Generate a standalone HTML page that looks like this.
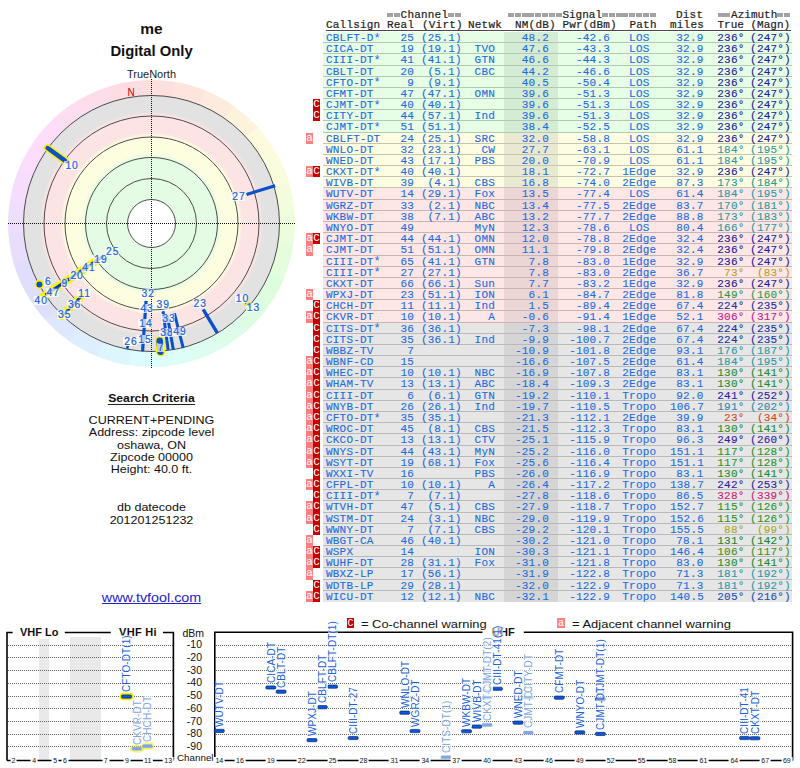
<!DOCTYPE html>
<html><head><meta charset="utf-8"><title>TV Fool</title>
<style>
html,body{margin:0;padding:0;background:#fff;}
body{width:800px;height:768px;overflow:hidden;position:relative;}
.a{position:absolute;white-space:pre;}
.m{font-family:"Liberation Mono",monospace;font-size:11px;}
.s{font-family:"Liberation Sans",sans-serif;}
.r{position:absolute;left:323px;width:469px;height:11.176px;}
.r .b{position:absolute;left:0;right:0;bottom:0;height:1px;}
.r .nm{position:absolute;left:181px;width:54px;top:0;bottom:0;}
.g{background:#e6fde6}.g .nm{background:#d4ebd4}.g .b{background:#b2cab2}
.y{background:#fdfde2}.y .nm{background:#e9e9d3}.y .b{background:#c6c6ae}
.p{background:#fde6e6}.p .nm{background:#ebd5d5}.p .b{background:#cab4b4}
.x{background:#e6e6e6}.x .nm{background:#d5d5d5}.x .b{background:#b9b9b9}
.tx{position:absolute;top:1px;letter-spacing:0.2px;-webkit-text-stroke:0.12px currentColor;line-height:11.176px;height:11.176px;white-space:pre;font-family:"Liberation Mono",monospace;font-size:11px;color:#1e6ce0;}
.st{font-size:12px;position:relative;top:0.5px;left:0px;line-height:0;-webkit-text-stroke:0}
.R{text-align:right}.C{text-align:center}
.fl{position:absolute;width:7px;color:#fff;font-family:"Liberation Mono",monospace;font-size:11px;text-align:center;}
.fa{background:#ff7f7f;left:306px}
.fc{background:#c80000;left:313px}
.hd{font-family:"Liberation Mono",monospace;font-size:11px;color:#222;letter-spacing:0.2px;-webkit-text-stroke:0.2px currentColor;position:absolute;white-space:pre;line-height:11px;}
.q{display:inline-block;width:6.8px;height:3.6px;vertical-align:0.9px;background:linear-gradient(to right,#a2a2a2 0,#a2a2a2 5.7px,transparent 5.7px)}
.pl{position:absolute;text-align:center;background:rgba(255,255,255,0.72);font-family:"Liberation Sans",sans-serif;font-size:10.3px;line-height:9px;height:9px;color:#1a62d8;letter-spacing:1px;text-indent:1px;-webkit-text-stroke:0.2px currentColor}
.axl{position:absolute;top:756.5px;transform:translateX(-50%);background:#fff;padding:0 1.5px;font-family:"Liberation Sans",sans-serif;font-size:7px;line-height:8px;color:#111;white-space:pre}
.sl{position:absolute;font-family:"Liberation Sans",sans-serif;font-size:10px;line-height:10px;height:10px;white-space:pre;transform-origin:0 0;transform:rotate(-90deg);letter-spacing:0.08px;background:rgba(255,255,255,0.6)}
</style></head><body>

<div class="hd" style="left:387.0px;top:9.5px;"><i class="q"></i><i class="q"></i>Channel<i class="q"></i><i class="q"></i></div>
<div class="hd" style="left:508.0px;top:9.5px;letter-spacing:0"><i class="q"></i><i class="q"></i><i class="q"></i><i class="q"></i><i class="q"></i><i class="q"></i><i class="q"></i><i class="q"></i>Signal<i class="q"></i><i class="q"></i><i class="q"></i><i class="q"></i><i class="q"></i><i class="q"></i><i class="q"></i><i class="q"></i></div>
<div class="hd" style="left:676.0px;top:9.5px;">Dist</div>
<div class="hd" style="left:717.5px;top:9.5px;letter-spacing:0"><i class="q"></i><i class="q"></i>Azimuth<i class="q"></i><i class="q"></i></div>
<div class="hd" style="left:326.0px;top:20.2px;">Callsign</div>
<div class="hd" style="left:387.0px;top:20.2px;">Real</div>
<div class="hd" style="left:422.0px;top:20.2px;">(Virt)</div>
<div class="hd" style="left:468.0px;top:20.2px;">Netwk</div>
<div class="hd" style="left:515.0px;top:20.2px;">NM(dB)</div>
<div class="hd" style="left:562.4px;top:20.2px;">Pwr(dBm)</div>
<div class="hd" style="left:629.5px;top:20.2px;">Path</div>
<div class="hd" style="left:670.0px;top:20.2px;">miles</div>
<div class="hd" style="left:717.5px;top:20.2px;letter-spacing:0">True (Magn)</div>
<div class="a" style="left:326px;top:30px;width:465px;height:1px;background:#484848"></div>
<div class="r g" style="top:32.000px"><div class="nm"></div><div class="b"></div>
<div class="tx " style="left:3.0px;width:80.0px;">CBLFT-D<span class="st">*</span></div>
<div class="tx R" style="left:67.0px;width:24.0px;">25</div>
<div class="tx R" style="left:98.0px;width:40.5px;">(25.1)</div>
<div class="tx R" style="left:142.0px;width:30.0px;"></div>
<div class="tx R" style="left:187.0px;width:39.0px;">48.2</div>
<div class="tx R" style="left:242.0px;width:45.0px;">-42.6</div>
<div class="tx C" style="left:296.0px;width:40.6px;">LOS</div>
<div class="tx R" style="left:347.0px;width:33.5px;">32.9</div>
<div class="tx R" style="left:389.0px;width:32.5px;color:#20209c">236°</div>
<div class="tx R" style="left:422.0px;width:45.9px;color:#20209c">(247°)</div>
</div>
<div class="r g" style="top:43.176px"><div class="nm"></div><div class="b"></div>
<div class="tx " style="left:3.0px;width:80.0px;">CICA-DT</div>
<div class="tx R" style="left:67.0px;width:24.0px;">19</div>
<div class="tx R" style="left:98.0px;width:40.5px;">(19.1)</div>
<div class="tx R" style="left:142.0px;width:30.0px;">TVO</div>
<div class="tx R" style="left:187.0px;width:39.0px;">47.6</div>
<div class="tx R" style="left:242.0px;width:45.0px;">-43.3</div>
<div class="tx C" style="left:296.0px;width:40.6px;">LOS</div>
<div class="tx R" style="left:347.0px;width:33.5px;">32.9</div>
<div class="tx R" style="left:389.0px;width:32.5px;color:#20209c">236°</div>
<div class="tx R" style="left:422.0px;width:45.9px;color:#20209c">(247°)</div>
</div>
<div class="r g" style="top:54.353px"><div class="nm"></div><div class="b"></div>
<div class="tx " style="left:3.0px;width:80.0px;">CIII-DT<span class="st">*</span></div>
<div class="tx R" style="left:67.0px;width:24.0px;">41</div>
<div class="tx R" style="left:98.0px;width:40.5px;">(41.1)</div>
<div class="tx R" style="left:142.0px;width:30.0px;">GTN</div>
<div class="tx R" style="left:187.0px;width:39.0px;">46.6</div>
<div class="tx R" style="left:242.0px;width:45.0px;">-44.3</div>
<div class="tx C" style="left:296.0px;width:40.6px;">LOS</div>
<div class="tx R" style="left:347.0px;width:33.5px;">32.9</div>
<div class="tx R" style="left:389.0px;width:32.5px;color:#20209c">236°</div>
<div class="tx R" style="left:422.0px;width:45.9px;color:#20209c">(247°)</div>
</div>
<div class="r g" style="top:65.529px"><div class="nm"></div><div class="b"></div>
<div class="tx " style="left:3.0px;width:80.0px;">CBLT-DT</div>
<div class="tx R" style="left:67.0px;width:24.0px;">20</div>
<div class="tx R" style="left:98.0px;width:40.5px;">(5.1)</div>
<div class="tx R" style="left:142.0px;width:30.0px;">CBC</div>
<div class="tx R" style="left:187.0px;width:39.0px;">44.2</div>
<div class="tx R" style="left:242.0px;width:45.0px;">-46.6</div>
<div class="tx C" style="left:296.0px;width:40.6px;">LOS</div>
<div class="tx R" style="left:347.0px;width:33.5px;">32.9</div>
<div class="tx R" style="left:389.0px;width:32.5px;color:#20209c">236°</div>
<div class="tx R" style="left:422.0px;width:45.9px;color:#20209c">(247°)</div>
</div>
<div class="r g" style="top:76.706px"><div class="nm"></div><div class="b"></div>
<div class="tx " style="left:3.0px;width:80.0px;">CFTO-DT<span class="st">*</span></div>
<div class="tx R" style="left:67.0px;width:24.0px;">9</div>
<div class="tx R" style="left:98.0px;width:40.5px;">(9.1)</div>
<div class="tx R" style="left:142.0px;width:30.0px;"></div>
<div class="tx R" style="left:187.0px;width:39.0px;">40.5</div>
<div class="tx R" style="left:242.0px;width:45.0px;">-50.4</div>
<div class="tx C" style="left:296.0px;width:40.6px;">LOS</div>
<div class="tx R" style="left:347.0px;width:33.5px;">32.9</div>
<div class="tx R" style="left:389.0px;width:32.5px;color:#20209c">236°</div>
<div class="tx R" style="left:422.0px;width:45.9px;color:#20209c">(247°)</div>
</div>
<div class="r g" style="top:87.882px"><div class="nm"></div><div class="b"></div>
<div class="tx " style="left:3.0px;width:80.0px;">CFMT-DT</div>
<div class="tx R" style="left:67.0px;width:24.0px;">47</div>
<div class="tx R" style="left:98.0px;width:40.5px;">(47.1)</div>
<div class="tx R" style="left:142.0px;width:30.0px;">OMN</div>
<div class="tx R" style="left:187.0px;width:39.0px;">39.6</div>
<div class="tx R" style="left:242.0px;width:45.0px;">-51.3</div>
<div class="tx C" style="left:296.0px;width:40.6px;">LOS</div>
<div class="tx R" style="left:347.0px;width:33.5px;">32.9</div>
<div class="tx R" style="left:389.0px;width:32.5px;color:#20209c">236°</div>
<div class="tx R" style="left:422.0px;width:45.9px;color:#20209c">(247°)</div>
</div>
<div class="r g" style="top:99.059px"><div class="nm"></div><div class="b"></div>
<div class="tx " style="left:3.0px;width:80.0px;">CJMT-DT<span class="st">*</span></div>
<div class="tx R" style="left:67.0px;width:24.0px;">40</div>
<div class="tx R" style="left:98.0px;width:40.5px;">(40.1)</div>
<div class="tx R" style="left:142.0px;width:30.0px;"></div>
<div class="tx R" style="left:187.0px;width:39.0px;">39.6</div>
<div class="tx R" style="left:242.0px;width:45.0px;">-51.3</div>
<div class="tx C" style="left:296.0px;width:40.6px;">LOS</div>
<div class="tx R" style="left:347.0px;width:33.5px;">32.9</div>
<div class="tx R" style="left:389.0px;width:32.5px;color:#20209c">236°</div>
<div class="tx R" style="left:422.0px;width:45.9px;color:#20209c">(247°)</div>
</div>
<div class="fl fc" style="top:99.059px;height:11.176px;line-height:11.176px">C</div>
<div class="r g" style="top:110.235px"><div class="nm"></div><div class="b"></div>
<div class="tx " style="left:3.0px;width:80.0px;">CITY-DT</div>
<div class="tx R" style="left:67.0px;width:24.0px;">44</div>
<div class="tx R" style="left:98.0px;width:40.5px;">(57.1)</div>
<div class="tx R" style="left:142.0px;width:30.0px;">Ind</div>
<div class="tx R" style="left:187.0px;width:39.0px;">39.6</div>
<div class="tx R" style="left:242.0px;width:45.0px;">-51.3</div>
<div class="tx C" style="left:296.0px;width:40.6px;">LOS</div>
<div class="tx R" style="left:347.0px;width:33.5px;">32.9</div>
<div class="tx R" style="left:389.0px;width:32.5px;color:#20209c">236°</div>
<div class="tx R" style="left:422.0px;width:45.9px;color:#20209c">(247°)</div>
</div>
<div class="fl fc" style="top:110.235px;height:11.176px;line-height:11.176px">C</div>
<div class="r g" style="top:121.412px"><div class="nm"></div><div class="b"></div>
<div class="tx " style="left:3.0px;width:80.0px;">CJMT-DT<span class="st">*</span></div>
<div class="tx R" style="left:67.0px;width:24.0px;">51</div>
<div class="tx R" style="left:98.0px;width:40.5px;">(51.1)</div>
<div class="tx R" style="left:142.0px;width:30.0px;"></div>
<div class="tx R" style="left:187.0px;width:39.0px;">38.4</div>
<div class="tx R" style="left:242.0px;width:45.0px;">-52.5</div>
<div class="tx C" style="left:296.0px;width:40.6px;">LOS</div>
<div class="tx R" style="left:347.0px;width:33.5px;">32.9</div>
<div class="tx R" style="left:389.0px;width:32.5px;color:#20209c">236°</div>
<div class="tx R" style="left:422.0px;width:45.9px;color:#20209c">(247°)</div>
</div>
<div class="r y" style="top:132.588px"><div class="nm"></div><div class="b"></div>
<div class="tx " style="left:3.0px;width:80.0px;">CBLFT-DT</div>
<div class="tx R" style="left:67.0px;width:24.0px;">24</div>
<div class="tx R" style="left:98.0px;width:40.5px;">(25.1)</div>
<div class="tx R" style="left:142.0px;width:30.0px;">SRC</div>
<div class="tx R" style="left:187.0px;width:39.0px;">32.0</div>
<div class="tx R" style="left:242.0px;width:45.0px;">-58.8</div>
<div class="tx C" style="left:296.0px;width:40.6px;">LOS</div>
<div class="tx R" style="left:347.0px;width:33.5px;">32.9</div>
<div class="tx R" style="left:389.0px;width:32.5px;color:#20209c">236°</div>
<div class="tx R" style="left:422.0px;width:45.9px;color:#20209c">(247°)</div>
</div>
<div class="fl fa" style="top:132.588px;height:11.176px;line-height:11.176px">a</div>
<div class="r y" style="top:143.765px"><div class="nm"></div><div class="b"></div>
<div class="tx " style="left:3.0px;width:80.0px;">WNLO-DT</div>
<div class="tx R" style="left:67.0px;width:24.0px;">32</div>
<div class="tx R" style="left:98.0px;width:40.5px;">(23.1)</div>
<div class="tx R" style="left:142.0px;width:30.0px;">CW</div>
<div class="tx R" style="left:187.0px;width:39.0px;">27.7</div>
<div class="tx R" style="left:242.0px;width:45.0px;">-63.1</div>
<div class="tx C" style="left:296.0px;width:40.6px;">LOS</div>
<div class="tx R" style="left:347.0px;width:33.5px;">61.1</div>
<div class="tx R" style="left:389.0px;width:32.5px;color:#2a98a4">184°</div>
<div class="tx R" style="left:422.0px;width:45.9px;color:#2a98a4">(195°)</div>
</div>
<div class="r y" style="top:154.941px"><div class="nm"></div><div class="b"></div>
<div class="tx " style="left:3.0px;width:80.0px;">WNED-DT</div>
<div class="tx R" style="left:67.0px;width:24.0px;">43</div>
<div class="tx R" style="left:98.0px;width:40.5px;">(17.1)</div>
<div class="tx R" style="left:142.0px;width:30.0px;">PBS</div>
<div class="tx R" style="left:187.0px;width:39.0px;">20.0</div>
<div class="tx R" style="left:242.0px;width:45.0px;">-70.9</div>
<div class="tx C" style="left:296.0px;width:40.6px;">LOS</div>
<div class="tx R" style="left:347.0px;width:33.5px;">61.1</div>
<div class="tx R" style="left:389.0px;width:32.5px;color:#2a98a4">184°</div>
<div class="tx R" style="left:422.0px;width:45.9px;color:#2a98a4">(195°)</div>
</div>
<div class="r y" style="top:166.118px"><div class="nm"></div><div class="b"></div>
<div class="tx " style="left:3.0px;width:80.0px;">CKXT-DT<span class="st">*</span></div>
<div class="tx R" style="left:67.0px;width:24.0px;">40</div>
<div class="tx R" style="left:98.0px;width:40.5px;">(40.1)</div>
<div class="tx R" style="left:142.0px;width:30.0px;"></div>
<div class="tx R" style="left:187.0px;width:39.0px;">18.1</div>
<div class="tx R" style="left:242.0px;width:45.0px;">-72.7</div>
<div class="tx C" style="left:296.0px;width:40.6px;">1Edge</div>
<div class="tx R" style="left:347.0px;width:33.5px;">32.9</div>
<div class="tx R" style="left:389.0px;width:32.5px;color:#20209c">236°</div>
<div class="tx R" style="left:422.0px;width:45.9px;color:#20209c">(247°)</div>
</div>
<div class="fl fa" style="top:166.118px;height:11.176px;line-height:11.176px">a</div>
<div class="fl fc" style="top:166.118px;height:11.176px;line-height:11.176px">C</div>
<div class="r y" style="top:177.294px"><div class="nm"></div><div class="b"></div>
<div class="tx " style="left:3.0px;width:80.0px;">WIVB-DT</div>
<div class="tx R" style="left:67.0px;width:24.0px;">39</div>
<div class="tx R" style="left:98.0px;width:40.5px;">(4.1)</div>
<div class="tx R" style="left:142.0px;width:30.0px;">CBS</div>
<div class="tx R" style="left:187.0px;width:39.0px;">16.8</div>
<div class="tx R" style="left:242.0px;width:45.0px;">-74.0</div>
<div class="tx C" style="left:296.0px;width:40.6px;">2Edge</div>
<div class="tx R" style="left:347.0px;width:33.5px;">87.3</div>
<div class="tx R" style="left:389.0px;width:32.5px;color:#2a9a9a">173°</div>
<div class="tx R" style="left:422.0px;width:45.9px;color:#2a9a9a">(184°)</div>
</div>
<div class="r p" style="top:188.471px"><div class="nm"></div><div class="b"></div>
<div class="tx " style="left:3.0px;width:80.0px;">WUTV-DT</div>
<div class="tx R" style="left:67.0px;width:24.0px;">14</div>
<div class="tx R" style="left:98.0px;width:40.5px;">(29.1)</div>
<div class="tx R" style="left:142.0px;width:30.0px;">Fox</div>
<div class="tx R" style="left:187.0px;width:39.0px;">13.5</div>
<div class="tx R" style="left:242.0px;width:45.0px;">-77.4</div>
<div class="tx C" style="left:296.0px;width:40.6px;">LOS</div>
<div class="tx R" style="left:347.0px;width:33.5px;">61.4</div>
<div class="tx R" style="left:389.0px;width:32.5px;color:#2a98a4">184°</div>
<div class="tx R" style="left:422.0px;width:45.9px;color:#2a98a4">(195°)</div>
</div>
<div class="r p" style="top:199.647px"><div class="nm"></div><div class="b"></div>
<div class="tx " style="left:3.0px;width:80.0px;">WGRZ-DT</div>
<div class="tx R" style="left:67.0px;width:24.0px;">33</div>
<div class="tx R" style="left:98.0px;width:40.5px;">(2.1)</div>
<div class="tx R" style="left:142.0px;width:30.0px;">NBC</div>
<div class="tx R" style="left:187.0px;width:39.0px;">13.4</div>
<div class="tx R" style="left:242.0px;width:45.0px;">-77.5</div>
<div class="tx C" style="left:296.0px;width:40.6px;">2Edge</div>
<div class="tx R" style="left:347.0px;width:33.5px;">83.7</div>
<div class="tx R" style="left:389.0px;width:32.5px;color:#2a9a9a">170°</div>
<div class="tx R" style="left:422.0px;width:45.9px;color:#2a9a9a">(181°)</div>
</div>
<div class="r p" style="top:210.824px"><div class="nm"></div><div class="b"></div>
<div class="tx " style="left:3.0px;width:80.0px;">WKBW-DT</div>
<div class="tx R" style="left:67.0px;width:24.0px;">38</div>
<div class="tx R" style="left:98.0px;width:40.5px;">(7.1)</div>
<div class="tx R" style="left:142.0px;width:30.0px;">ABC</div>
<div class="tx R" style="left:187.0px;width:39.0px;">13.2</div>
<div class="tx R" style="left:242.0px;width:45.0px;">-77.7</div>
<div class="tx C" style="left:296.0px;width:40.6px;">2Edge</div>
<div class="tx R" style="left:347.0px;width:33.5px;">88.8</div>
<div class="tx R" style="left:389.0px;width:32.5px;color:#2a9a9a">173°</div>
<div class="tx R" style="left:422.0px;width:45.9px;color:#2a9a9a">(183°)</div>
</div>
<div class="r p" style="top:222.000px"><div class="nm"></div><div class="b"></div>
<div class="tx " style="left:3.0px;width:80.0px;">WNYO-DT</div>
<div class="tx R" style="left:67.0px;width:24.0px;">49</div>
<div class="tx R" style="left:98.0px;width:40.5px;"></div>
<div class="tx R" style="left:142.0px;width:30.0px;">MyN</div>
<div class="tx R" style="left:187.0px;width:39.0px;">12.3</div>
<div class="tx R" style="left:242.0px;width:45.0px;">-78.6</div>
<div class="tx C" style="left:296.0px;width:40.6px;">LOS</div>
<div class="tx R" style="left:347.0px;width:33.5px;">80.4</div>
<div class="tx R" style="left:389.0px;width:32.5px;color:#2a9a9a">166°</div>
<div class="tx R" style="left:422.0px;width:45.9px;color:#2a9a9a">(177°)</div>
</div>
<div class="r p" style="top:233.176px"><div class="nm"></div><div class="b"></div>
<div class="tx " style="left:3.0px;width:80.0px;">CJMT-DT</div>
<div class="tx R" style="left:67.0px;width:24.0px;">44</div>
<div class="tx R" style="left:98.0px;width:40.5px;">(44.1)</div>
<div class="tx R" style="left:142.0px;width:30.0px;">OMN</div>
<div class="tx R" style="left:187.0px;width:39.0px;">12.0</div>
<div class="tx R" style="left:242.0px;width:45.0px;">-78.8</div>
<div class="tx C" style="left:296.0px;width:40.6px;">2Edge</div>
<div class="tx R" style="left:347.0px;width:33.5px;">32.4</div>
<div class="tx R" style="left:389.0px;width:32.5px;color:#20209c">236°</div>
<div class="tx R" style="left:422.0px;width:45.9px;color:#20209c">(247°)</div>
</div>
<div class="fl fa" style="top:233.176px;height:11.176px;line-height:11.176px">a</div>
<div class="fl fc" style="top:233.176px;height:11.176px;line-height:11.176px">C</div>
<div class="r p" style="top:244.353px"><div class="nm"></div><div class="b"></div>
<div class="tx " style="left:3.0px;width:80.0px;">CJMT-DT</div>
<div class="tx R" style="left:67.0px;width:24.0px;">51</div>
<div class="tx R" style="left:98.0px;width:40.5px;">(51.1)</div>
<div class="tx R" style="left:142.0px;width:30.0px;">OMN</div>
<div class="tx R" style="left:187.0px;width:39.0px;">11.1</div>
<div class="tx R" style="left:242.0px;width:45.0px;">-79.8</div>
<div class="tx C" style="left:296.0px;width:40.6px;">2Edge</div>
<div class="tx R" style="left:347.0px;width:33.5px;">32.4</div>
<div class="tx R" style="left:389.0px;width:32.5px;color:#20209c">236°</div>
<div class="tx R" style="left:422.0px;width:45.9px;color:#20209c">(247°)</div>
</div>
<div class="fl fa" style="top:244.353px;height:11.176px;line-height:11.176px">a</div>
<div class="r p" style="top:255.529px"><div class="nm"></div><div class="b"></div>
<div class="tx " style="left:3.0px;width:80.0px;">CIII-DT<span class="st">*</span></div>
<div class="tx R" style="left:67.0px;width:24.0px;">65</div>
<div class="tx R" style="left:98.0px;width:40.5px;">(41.1)</div>
<div class="tx R" style="left:142.0px;width:30.0px;">GTN</div>
<div class="tx R" style="left:187.0px;width:39.0px;">7.8</div>
<div class="tx R" style="left:242.0px;width:45.0px;">-83.0</div>
<div class="tx C" style="left:296.0px;width:40.6px;">1Edge</div>
<div class="tx R" style="left:347.0px;width:33.5px;">32.9</div>
<div class="tx R" style="left:389.0px;width:32.5px;color:#20209c">236°</div>
<div class="tx R" style="left:422.0px;width:45.9px;color:#20209c">(247°)</div>
</div>
<div class="r p" style="top:266.706px"><div class="nm"></div><div class="b"></div>
<div class="tx " style="left:3.0px;width:80.0px;">CIII-DT<span class="st">*</span></div>
<div class="tx R" style="left:67.0px;width:24.0px;">27</div>
<div class="tx R" style="left:98.0px;width:40.5px;">(27.1)</div>
<div class="tx R" style="left:142.0px;width:30.0px;"></div>
<div class="tx R" style="left:187.0px;width:39.0px;">7.8</div>
<div class="tx R" style="left:242.0px;width:45.0px;">-83.0</div>
<div class="tx C" style="left:296.0px;width:40.6px;">2Edge</div>
<div class="tx R" style="left:347.0px;width:33.5px;">36.7</div>
<div class="tx R" style="left:389.0px;width:32.5px;color:#b8a020">73°</div>
<div class="tx R" style="left:422.0px;width:45.9px;color:#b8a020">(83°)</div>
</div>
<div class="r p" style="top:277.882px"><div class="nm"></div><div class="b"></div>
<div class="tx " style="left:3.0px;width:80.0px;">CKXT-DT</div>
<div class="tx R" style="left:67.0px;width:24.0px;">66</div>
<div class="tx R" style="left:98.0px;width:40.5px;">(66.1)</div>
<div class="tx R" style="left:142.0px;width:30.0px;">Sun</div>
<div class="tx R" style="left:187.0px;width:39.0px;">7.7</div>
<div class="tx R" style="left:242.0px;width:45.0px;">-83.2</div>
<div class="tx C" style="left:296.0px;width:40.6px;">1Edge</div>
<div class="tx R" style="left:347.0px;width:33.5px;">32.9</div>
<div class="tx R" style="left:389.0px;width:32.5px;color:#20209c">236°</div>
<div class="tx R" style="left:422.0px;width:45.9px;color:#20209c">(247°)</div>
</div>
<div class="r p" style="top:289.059px"><div class="nm"></div><div class="b"></div>
<div class="tx " style="left:3.0px;width:80.0px;">WPXJ-DT</div>
<div class="tx R" style="left:67.0px;width:24.0px;">23</div>
<div class="tx R" style="left:98.0px;width:40.5px;">(51.1)</div>
<div class="tx R" style="left:142.0px;width:30.0px;">ION</div>
<div class="tx R" style="left:187.0px;width:39.0px;">6.1</div>
<div class="tx R" style="left:242.0px;width:45.0px;">-84.7</div>
<div class="tx C" style="left:296.0px;width:40.6px;">2Edge</div>
<div class="tx R" style="left:347.0px;width:33.5px;">81.8</div>
<div class="tx R" style="left:389.0px;width:32.5px;color:#2a9a4a">149°</div>
<div class="tx R" style="left:422.0px;width:45.9px;color:#2a9a4a">(160°)</div>
</div>
<div class="fl fa" style="top:289.059px;height:11.176px;line-height:11.176px">a</div>
<div class="r p" style="top:300.235px"><div class="nm"></div><div class="b"></div>
<div class="tx " style="left:3.0px;width:80.0px;">CHCH-DT</div>
<div class="tx R" style="left:67.0px;width:24.0px;">11</div>
<div class="tx R" style="left:98.0px;width:40.5px;">(11.1)</div>
<div class="tx R" style="left:142.0px;width:30.0px;">Ind</div>
<div class="tx R" style="left:187.0px;width:39.0px;">1.5</div>
<div class="tx R" style="left:242.0px;width:45.0px;">-89.4</div>
<div class="tx C" style="left:296.0px;width:40.6px;">2Edge</div>
<div class="tx R" style="left:347.0px;width:33.5px;">67.4</div>
<div class="tx R" style="left:389.0px;width:32.5px;color:#2030a8">224°</div>
<div class="tx R" style="left:422.0px;width:45.9px;color:#2030a8">(235°)</div>
</div>
<div class="fl fc" style="top:300.235px;height:11.176px;line-height:11.176px">C</div>
<div class="r p" style="top:311.412px"><div class="nm"></div><div class="b"></div>
<div class="tx " style="left:3.0px;width:80.0px;">CKVR-DT</div>
<div class="tx R" style="left:67.0px;width:24.0px;">10</div>
<div class="tx R" style="left:98.0px;width:40.5px;">(10.1)</div>
<div class="tx R" style="left:142.0px;width:30.0px;">A</div>
<div class="tx R" style="left:187.0px;width:39.0px;">-0.6</div>
<div class="tx R" style="left:242.0px;width:45.0px;">-91.4</div>
<div class="tx C" style="left:296.0px;width:40.6px;">1Edge</div>
<div class="tx R" style="left:347.0px;width:33.5px;">52.1</div>
<div class="tx R" style="left:389.0px;width:32.5px;color:#c02098">306°</div>
<div class="tx R" style="left:422.0px;width:45.9px;color:#c02098">(317°)</div>
</div>
<div class="fl fa" style="top:311.412px;height:11.176px;line-height:11.176px">a</div>
<div class="fl fc" style="top:311.412px;height:11.176px;line-height:11.176px">C</div>
<div class="r x" style="top:322.588px"><div class="nm"></div><div class="b"></div>
<div class="tx " style="left:3.0px;width:80.0px;">CITS-DT<span class="st">*</span></div>
<div class="tx R" style="left:67.0px;width:24.0px;">36</div>
<div class="tx R" style="left:98.0px;width:40.5px;">(36.1)</div>
<div class="tx R" style="left:142.0px;width:30.0px;"></div>
<div class="tx R" style="left:187.0px;width:39.0px;">-7.3</div>
<div class="tx R" style="left:242.0px;width:45.0px;">-98.1</div>
<div class="tx C" style="left:296.0px;width:40.6px;">2Edge</div>
<div class="tx R" style="left:347.0px;width:33.5px;">67.4</div>
<div class="tx R" style="left:389.0px;width:32.5px;color:#2030a8">224°</div>
<div class="tx R" style="left:422.0px;width:45.9px;color:#2030a8">(235°)</div>
</div>
<div class="fl fc" style="top:322.588px;height:11.176px;line-height:11.176px">C</div>
<div class="r x" style="top:333.765px"><div class="nm"></div><div class="b"></div>
<div class="tx " style="left:3.0px;width:80.0px;">CITS-DT</div>
<div class="tx R" style="left:67.0px;width:24.0px;">35</div>
<div class="tx R" style="left:98.0px;width:40.5px;">(36.1)</div>
<div class="tx R" style="left:142.0px;width:30.0px;">Ind</div>
<div class="tx R" style="left:187.0px;width:39.0px;">-9.9</div>
<div class="tx R" style="left:242.0px;width:45.0px;">-100.7</div>
<div class="tx C" style="left:296.0px;width:40.6px;">2Edge</div>
<div class="tx R" style="left:347.0px;width:33.5px;">67.4</div>
<div class="tx R" style="left:389.0px;width:32.5px;color:#2030a8">224°</div>
<div class="tx R" style="left:422.0px;width:45.9px;color:#2030a8">(235°)</div>
</div>
<div class="fl fc" style="top:333.765px;height:11.176px;line-height:11.176px">C</div>
<div class="r x" style="top:344.941px"><div class="nm"></div><div class="b"></div>
<div class="tx " style="left:3.0px;width:80.0px;">WBBZ-TV</div>
<div class="tx R" style="left:67.0px;width:24.0px;">7</div>
<div class="tx R" style="left:98.0px;width:40.5px;"></div>
<div class="tx R" style="left:142.0px;width:30.0px;"></div>
<div class="tx R" style="left:187.0px;width:39.0px;">-10.9</div>
<div class="tx R" style="left:242.0px;width:45.0px;">-101.8</div>
<div class="tx C" style="left:296.0px;width:40.6px;">2Edge</div>
<div class="tx R" style="left:347.0px;width:33.5px;">93.1</div>
<div class="tx R" style="left:389.0px;width:32.5px;color:#2a9aa4">176°</div>
<div class="tx R" style="left:422.0px;width:45.9px;color:#2a9aa4">(187°)</div>
</div>
<div class="fl fc" style="top:344.941px;height:11.176px;line-height:11.176px">C</div>
<div class="r x" style="top:356.118px"><div class="nm"></div><div class="b"></div>
<div class="tx " style="left:3.0px;width:80.0px;">WBNF-CD</div>
<div class="tx R" style="left:67.0px;width:24.0px;">15</div>
<div class="tx R" style="left:98.0px;width:40.5px;"></div>
<div class="tx R" style="left:142.0px;width:30.0px;"></div>
<div class="tx R" style="left:187.0px;width:39.0px;">-16.6</div>
<div class="tx R" style="left:242.0px;width:45.0px;">-107.5</div>
<div class="tx C" style="left:296.0px;width:40.6px;">2Edge</div>
<div class="tx R" style="left:347.0px;width:33.5px;">61.4</div>
<div class="tx R" style="left:389.0px;width:32.5px;color:#2a98a4">184°</div>
<div class="tx R" style="left:422.0px;width:45.9px;color:#2a98a4">(195°)</div>
</div>
<div class="fl fa" style="top:356.118px;height:11.176px;line-height:11.176px">a</div>
<div class="fl fc" style="top:356.118px;height:11.176px;line-height:11.176px">C</div>
<div class="r x" style="top:367.294px"><div class="nm"></div><div class="b"></div>
<div class="tx " style="left:3.0px;width:80.0px;">WHEC-DT</div>
<div class="tx R" style="left:67.0px;width:24.0px;">10</div>
<div class="tx R" style="left:98.0px;width:40.5px;">(10.1)</div>
<div class="tx R" style="left:142.0px;width:30.0px;">NBC</div>
<div class="tx R" style="left:187.0px;width:39.0px;">-16.9</div>
<div class="tx R" style="left:242.0px;width:45.0px;">-107.8</div>
<div class="tx C" style="left:296.0px;width:40.6px;">2Edge</div>
<div class="tx R" style="left:347.0px;width:33.5px;">83.1</div>
<div class="tx R" style="left:389.0px;width:32.5px;color:#1e8c2c">130°</div>
<div class="tx R" style="left:422.0px;width:45.9px;color:#1e8c2c">(141°)</div>
</div>
<div class="fl fa" style="top:367.294px;height:11.176px;line-height:11.176px">a</div>
<div class="fl fc" style="top:367.294px;height:11.176px;line-height:11.176px">C</div>
<div class="r x" style="top:378.471px"><div class="nm"></div><div class="b"></div>
<div class="tx " style="left:3.0px;width:80.0px;">WHAM-TV</div>
<div class="tx R" style="left:67.0px;width:24.0px;">13</div>
<div class="tx R" style="left:98.0px;width:40.5px;">(13.1)</div>
<div class="tx R" style="left:142.0px;width:30.0px;">ABC</div>
<div class="tx R" style="left:187.0px;width:39.0px;">-18.4</div>
<div class="tx R" style="left:242.0px;width:45.0px;">-109.3</div>
<div class="tx C" style="left:296.0px;width:40.6px;">2Edge</div>
<div class="tx R" style="left:347.0px;width:33.5px;">83.1</div>
<div class="tx R" style="left:389.0px;width:32.5px;color:#1e8c2c">130°</div>
<div class="tx R" style="left:422.0px;width:45.9px;color:#1e8c2c">(141°)</div>
</div>
<div class="fl fa" style="top:378.471px;height:11.176px;line-height:11.176px">a</div>
<div class="fl fc" style="top:378.471px;height:11.176px;line-height:11.176px">C</div>
<div class="r x" style="top:389.647px"><div class="nm"></div><div class="b"></div>
<div class="tx " style="left:3.0px;width:80.0px;">CIII-DT</div>
<div class="tx R" style="left:67.0px;width:24.0px;">6</div>
<div class="tx R" style="left:98.0px;width:40.5px;">(6.1)</div>
<div class="tx R" style="left:142.0px;width:30.0px;">GTN</div>
<div class="tx R" style="left:187.0px;width:39.0px;">-19.2</div>
<div class="tx R" style="left:242.0px;width:45.0px;">-110.1</div>
<div class="tx C" style="left:296.0px;width:40.6px;">Tropo</div>
<div class="tx R" style="left:347.0px;width:33.5px;">92.0</div>
<div class="tx R" style="left:389.0px;width:32.5px;color:#2a24a4">241°</div>
<div class="tx R" style="left:422.0px;width:45.9px;color:#2a24a4">(252°)</div>
</div>
<div class="fl fa" style="top:389.647px;height:11.176px;line-height:11.176px">a</div>
<div class="fl fc" style="top:389.647px;height:11.176px;line-height:11.176px">C</div>
<div class="r x" style="top:400.824px"><div class="nm"></div><div class="b"></div>
<div class="tx " style="left:3.0px;width:80.0px;">WNYB-DT</div>
<div class="tx R" style="left:67.0px;width:24.0px;">26</div>
<div class="tx R" style="left:98.0px;width:40.5px;">(26.1)</div>
<div class="tx R" style="left:142.0px;width:30.0px;">Ind</div>
<div class="tx R" style="left:187.0px;width:39.0px;">-19.7</div>
<div class="tx R" style="left:242.0px;width:45.0px;">-110.5</div>
<div class="tx C" style="left:296.0px;width:40.6px;">Tropo</div>
<div class="tx R" style="left:347.0px;width:33.5px;">106.7</div>
<div class="tx R" style="left:389.0px;width:32.5px;color:#2a88b0">191°</div>
<div class="tx R" style="left:422.0px;width:45.9px;color:#2a88b0">(202°)</div>
</div>
<div class="fl fa" style="top:400.824px;height:11.176px;line-height:11.176px">a</div>
<div class="fl fc" style="top:400.824px;height:11.176px;line-height:11.176px">C</div>
<div class="r x" style="top:412.000px"><div class="nm"></div><div class="b"></div>
<div class="tx " style="left:3.0px;width:80.0px;">CFTO-DT<span class="st">*</span></div>
<div class="tx R" style="left:67.0px;width:24.0px;">35</div>
<div class="tx R" style="left:98.0px;width:40.5px;">(35.1)</div>
<div class="tx R" style="left:142.0px;width:30.0px;"></div>
<div class="tx R" style="left:187.0px;width:39.0px;">-21.3</div>
<div class="tx R" style="left:242.0px;width:45.0px;">-112.1</div>
<div class="tx C" style="left:296.0px;width:40.6px;">2Edge</div>
<div class="tx R" style="left:347.0px;width:33.5px;">39.9</div>
<div class="tx R" style="left:389.0px;width:32.5px;color:#d04818">23°</div>
<div class="tx R" style="left:422.0px;width:45.9px;color:#d04818">(34°)</div>
</div>
<div class="fl fa" style="top:412.000px;height:11.176px;line-height:11.176px">a</div>
<div class="fl fc" style="top:412.000px;height:11.176px;line-height:11.176px">C</div>
<div class="r x" style="top:423.176px"><div class="nm"></div><div class="b"></div>
<div class="tx " style="left:3.0px;width:80.0px;">WROC-DT</div>
<div class="tx R" style="left:67.0px;width:24.0px;">45</div>
<div class="tx R" style="left:98.0px;width:40.5px;">(8.1)</div>
<div class="tx R" style="left:142.0px;width:30.0px;">CBS</div>
<div class="tx R" style="left:187.0px;width:39.0px;">-21.5</div>
<div class="tx R" style="left:242.0px;width:45.0px;">-112.3</div>
<div class="tx C" style="left:296.0px;width:40.6px;">Tropo</div>
<div class="tx R" style="left:347.0px;width:33.5px;">83.1</div>
<div class="tx R" style="left:389.0px;width:32.5px;color:#1e8c2c">130°</div>
<div class="tx R" style="left:422.0px;width:45.9px;color:#1e8c2c">(141°)</div>
</div>
<div class="fl fa" style="top:423.176px;height:11.176px;line-height:11.176px">a</div>
<div class="fl fc" style="top:423.176px;height:11.176px;line-height:11.176px">C</div>
<div class="r x" style="top:434.353px"><div class="nm"></div><div class="b"></div>
<div class="tx " style="left:3.0px;width:80.0px;">CKCO-DT</div>
<div class="tx R" style="left:67.0px;width:24.0px;">13</div>
<div class="tx R" style="left:98.0px;width:40.5px;">(13.1)</div>
<div class="tx R" style="left:142.0px;width:30.0px;">CTV</div>
<div class="tx R" style="left:187.0px;width:39.0px;">-25.1</div>
<div class="tx R" style="left:242.0px;width:45.0px;">-115.9</div>
<div class="tx C" style="left:296.0px;width:40.6px;">Tropo</div>
<div class="tx R" style="left:347.0px;width:33.5px;">96.3</div>
<div class="tx R" style="left:389.0px;width:32.5px;color:#3420a4">249°</div>
<div class="tx R" style="left:422.0px;width:45.9px;color:#3420a4">(260°)</div>
</div>
<div class="fl fa" style="top:434.353px;height:11.176px;line-height:11.176px">a</div>
<div class="fl fc" style="top:434.353px;height:11.176px;line-height:11.176px">C</div>
<div class="r x" style="top:445.529px"><div class="nm"></div><div class="b"></div>
<div class="tx " style="left:3.0px;width:80.0px;">WNYS-DT</div>
<div class="tx R" style="left:67.0px;width:24.0px;">44</div>
<div class="tx R" style="left:98.0px;width:40.5px;">(43.1)</div>
<div class="tx R" style="left:142.0px;width:30.0px;">MyN</div>
<div class="tx R" style="left:187.0px;width:39.0px;">-25.2</div>
<div class="tx R" style="left:242.0px;width:45.0px;">-116.0</div>
<div class="tx C" style="left:296.0px;width:40.6px;">Tropo</div>
<div class="tx R" style="left:347.0px;width:33.5px;">151.1</div>
<div class="tx R" style="left:389.0px;width:32.5px;color:#2a9428">117°</div>
<div class="tx R" style="left:422.0px;width:45.9px;color:#2a9428">(128°)</div>
</div>
<div class="fl fa" style="top:445.529px;height:11.176px;line-height:11.176px">a</div>
<div class="fl fc" style="top:445.529px;height:11.176px;line-height:11.176px">C</div>
<div class="r x" style="top:456.706px"><div class="nm"></div><div class="b"></div>
<div class="tx " style="left:3.0px;width:80.0px;">WSYT-DT</div>
<div class="tx R" style="left:67.0px;width:24.0px;">19</div>
<div class="tx R" style="left:98.0px;width:40.5px;">(68.1)</div>
<div class="tx R" style="left:142.0px;width:30.0px;">Fox</div>
<div class="tx R" style="left:187.0px;width:39.0px;">-25.6</div>
<div class="tx R" style="left:242.0px;width:45.0px;">-116.4</div>
<div class="tx C" style="left:296.0px;width:40.6px;">Tropo</div>
<div class="tx R" style="left:347.0px;width:33.5px;">151.1</div>
<div class="tx R" style="left:389.0px;width:32.5px;color:#2a9428">117°</div>
<div class="tx R" style="left:422.0px;width:45.9px;color:#2a9428">(128°)</div>
</div>
<div class="fl fa" style="top:456.706px;height:11.176px;line-height:11.176px">a</div>
<div class="fl fc" style="top:456.706px;height:11.176px;line-height:11.176px">C</div>
<div class="r x" style="top:467.882px"><div class="nm"></div><div class="b"></div>
<div class="tx " style="left:3.0px;width:80.0px;">WXXI-TV</div>
<div class="tx R" style="left:67.0px;width:24.0px;">16</div>
<div class="tx R" style="left:98.0px;width:40.5px;"></div>
<div class="tx R" style="left:142.0px;width:30.0px;">PBS</div>
<div class="tx R" style="left:187.0px;width:39.0px;">-26.0</div>
<div class="tx R" style="left:242.0px;width:45.0px;">-116.9</div>
<div class="tx C" style="left:296.0px;width:40.6px;">Tropo</div>
<div class="tx R" style="left:347.0px;width:33.5px;">83.1</div>
<div class="tx R" style="left:389.0px;width:32.5px;color:#1e8c2c">130°</div>
<div class="tx R" style="left:422.0px;width:45.9px;color:#1e8c2c">(141°)</div>
</div>
<div class="fl fc" style="top:467.882px;height:11.176px;line-height:11.176px">C</div>
<div class="r x" style="top:479.059px"><div class="nm"></div><div class="b"></div>
<div class="tx " style="left:3.0px;width:80.0px;">CFPL-DT</div>
<div class="tx R" style="left:67.0px;width:24.0px;">10</div>
<div class="tx R" style="left:98.0px;width:40.5px;">(10.1)</div>
<div class="tx R" style="left:142.0px;width:30.0px;">A</div>
<div class="tx R" style="left:187.0px;width:39.0px;">-26.4</div>
<div class="tx R" style="left:242.0px;width:45.0px;">-117.2</div>
<div class="tx C" style="left:296.0px;width:40.6px;">Tropo</div>
<div class="tx R" style="left:347.0px;width:33.5px;">138.7</div>
<div class="tx R" style="left:389.0px;width:32.5px;color:#2a24a4">242°</div>
<div class="tx R" style="left:422.0px;width:45.9px;color:#2a24a4">(253°)</div>
</div>
<div class="fl fa" style="top:479.059px;height:11.176px;line-height:11.176px">a</div>
<div class="fl fc" style="top:479.059px;height:11.176px;line-height:11.176px">C</div>
<div class="r x" style="top:490.235px"><div class="nm"></div><div class="b"></div>
<div class="tx " style="left:3.0px;width:80.0px;">CIII-DT<span class="st">*</span></div>
<div class="tx R" style="left:67.0px;width:24.0px;">7</div>
<div class="tx R" style="left:98.0px;width:40.5px;">(7.1)</div>
<div class="tx R" style="left:142.0px;width:30.0px;"></div>
<div class="tx R" style="left:187.0px;width:39.0px;">-27.8</div>
<div class="tx R" style="left:242.0px;width:45.0px;">-118.6</div>
<div class="tx C" style="left:296.0px;width:40.6px;">Tropo</div>
<div class="tx R" style="left:347.0px;width:33.5px;">86.5</div>
<div class="tx R" style="left:389.0px;width:32.5px;color:#d02070">328°</div>
<div class="tx R" style="left:422.0px;width:45.9px;color:#d02070">(339°)</div>
</div>
<div class="fl fc" style="top:490.235px;height:11.176px;line-height:11.176px">C</div>
<div class="r x" style="top:501.412px"><div class="nm"></div><div class="b"></div>
<div class="tx " style="left:3.0px;width:80.0px;">WTVH-DT</div>
<div class="tx R" style="left:67.0px;width:24.0px;">47</div>
<div class="tx R" style="left:98.0px;width:40.5px;">(5.1)</div>
<div class="tx R" style="left:142.0px;width:30.0px;">CBS</div>
<div class="tx R" style="left:187.0px;width:39.0px;">-27.9</div>
<div class="tx R" style="left:242.0px;width:45.0px;">-118.7</div>
<div class="tx C" style="left:296.0px;width:40.6px;">Tropo</div>
<div class="tx R" style="left:347.0px;width:33.5px;">152.7</div>
<div class="tx R" style="left:389.0px;width:32.5px;color:#2a9428">115°</div>
<div class="tx R" style="left:422.0px;width:45.9px;color:#2a9428">(126°)</div>
</div>
<div class="fl fa" style="top:501.412px;height:11.176px;line-height:11.176px">a</div>
<div class="fl fc" style="top:501.412px;height:11.176px;line-height:11.176px">C</div>
<div class="r x" style="top:512.588px"><div class="nm"></div><div class="b"></div>
<div class="tx " style="left:3.0px;width:80.0px;">WSTM-DT</div>
<div class="tx R" style="left:67.0px;width:24.0px;">24</div>
<div class="tx R" style="left:98.0px;width:40.5px;">(3.1)</div>
<div class="tx R" style="left:142.0px;width:30.0px;">NBC</div>
<div class="tx R" style="left:187.0px;width:39.0px;">-29.0</div>
<div class="tx R" style="left:242.0px;width:45.0px;">-119.9</div>
<div class="tx C" style="left:296.0px;width:40.6px;">Tropo</div>
<div class="tx R" style="left:347.0px;width:33.5px;">152.6</div>
<div class="tx R" style="left:389.0px;width:32.5px;color:#2a9428">115°</div>
<div class="tx R" style="left:422.0px;width:45.9px;color:#2a9428">(126°)</div>
</div>
<div class="fl fa" style="top:512.588px;height:11.176px;line-height:11.176px">a</div>
<div class="fl fc" style="top:512.588px;height:11.176px;line-height:11.176px">C</div>
<div class="r x" style="top:523.765px"><div class="nm"></div><div class="b"></div>
<div class="tx " style="left:3.0px;width:80.0px;">WWNY-DT</div>
<div class="tx R" style="left:67.0px;width:24.0px;">7</div>
<div class="tx R" style="left:98.0px;width:40.5px;">(7.1)</div>
<div class="tx R" style="left:142.0px;width:30.0px;">CBS</div>
<div class="tx R" style="left:187.0px;width:39.0px;">-29.2</div>
<div class="tx R" style="left:242.0px;width:45.0px;">-120.1</div>
<div class="tx C" style="left:296.0px;width:40.6px;">Tropo</div>
<div class="tx R" style="left:347.0px;width:33.5px;">155.5</div>
<div class="tx R" style="left:389.0px;width:32.5px;color:#a8a828">88°</div>
<div class="tx R" style="left:422.0px;width:45.9px;color:#a8a828">(99°)</div>
</div>
<div class="fl fc" style="top:523.765px;height:11.176px;line-height:11.176px">C</div>
<div class="r x" style="top:534.941px"><div class="nm"></div><div class="b"></div>
<div class="tx " style="left:3.0px;width:80.0px;">WBGT-CA</div>
<div class="tx R" style="left:67.0px;width:24.0px;">46</div>
<div class="tx R" style="left:98.0px;width:40.5px;">(40.1)</div>
<div class="tx R" style="left:142.0px;width:30.0px;"></div>
<div class="tx R" style="left:187.0px;width:39.0px;">-30.2</div>
<div class="tx R" style="left:242.0px;width:45.0px;">-121.0</div>
<div class="tx C" style="left:296.0px;width:40.6px;">Tropo</div>
<div class="tx R" style="left:347.0px;width:33.5px;">78.1</div>
<div class="tx R" style="left:389.0px;width:32.5px;color:#1a8432">131°</div>
<div class="tx R" style="left:422.0px;width:45.9px;color:#1a8432">(142°)</div>
</div>
<div class="fl fa" style="top:534.941px;height:11.176px;line-height:11.176px">a</div>
<div class="r x" style="top:546.118px"><div class="nm"></div><div class="b"></div>
<div class="tx " style="left:3.0px;width:80.0px;">WSPX</div>
<div class="tx R" style="left:67.0px;width:24.0px;">14</div>
<div class="tx R" style="left:98.0px;width:40.5px;"></div>
<div class="tx R" style="left:142.0px;width:30.0px;">ION</div>
<div class="tx R" style="left:187.0px;width:39.0px;">-30.3</div>
<div class="tx R" style="left:242.0px;width:45.0px;">-121.1</div>
<div class="tx C" style="left:296.0px;width:40.6px;">Tropo</div>
<div class="tx R" style="left:347.0px;width:33.5px;">146.4</div>
<div class="tx R" style="left:389.0px;width:32.5px;color:#3c9418">106°</div>
<div class="tx R" style="left:422.0px;width:45.9px;color:#3c9418">(117°)</div>
</div>
<div class="fl fa" style="top:546.118px;height:11.176px;line-height:11.176px">a</div>
<div class="fl fc" style="top:546.118px;height:11.176px;line-height:11.176px">C</div>
<div class="r x" style="top:557.294px"><div class="nm"></div><div class="b"></div>
<div class="tx " style="left:3.0px;width:80.0px;">WUHF-DT</div>
<div class="tx R" style="left:67.0px;width:24.0px;">28</div>
<div class="tx R" style="left:98.0px;width:40.5px;">(31.1)</div>
<div class="tx R" style="left:142.0px;width:30.0px;">Fox</div>
<div class="tx R" style="left:187.0px;width:39.0px;">-31.0</div>
<div class="tx R" style="left:242.0px;width:45.0px;">-121.8</div>
<div class="tx C" style="left:296.0px;width:40.6px;">Tropo</div>
<div class="tx R" style="left:347.0px;width:33.5px;">83.0</div>
<div class="tx R" style="left:389.0px;width:32.5px;color:#1e8c2c">130°</div>
<div class="tx R" style="left:422.0px;width:45.9px;color:#1e8c2c">(141°)</div>
</div>
<div class="fl fa" style="top:557.294px;height:11.176px;line-height:11.176px">a</div>
<div class="fl fc" style="top:557.294px;height:11.176px;line-height:11.176px">C</div>
<div class="r x" style="top:568.471px"><div class="nm"></div><div class="b"></div>
<div class="tx " style="left:3.0px;width:80.0px;">WBXZ-LP</div>
<div class="tx R" style="left:67.0px;width:24.0px;">17</div>
<div class="tx R" style="left:98.0px;width:40.5px;">(56.1)</div>
<div class="tx R" style="left:142.0px;width:30.0px;"></div>
<div class="tx R" style="left:187.0px;width:39.0px;">-31.9</div>
<div class="tx R" style="left:242.0px;width:45.0px;">-122.8</div>
<div class="tx C" style="left:296.0px;width:40.6px;">Tropo</div>
<div class="tx R" style="left:347.0px;width:33.5px;">71.3</div>
<div class="tx R" style="left:389.0px;width:32.5px;color:#2a98a8">181°</div>
<div class="tx R" style="left:422.0px;width:45.9px;color:#2a98a8">(192°)</div>
</div>
<div class="fl fa" style="top:568.471px;height:11.176px;line-height:11.176px">a</div>
<div class="r x" style="top:579.647px"><div class="nm"></div><div class="b"></div>
<div class="tx " style="left:3.0px;width:80.0px;">WDTB-LP</div>
<div class="tx R" style="left:67.0px;width:24.0px;">29</div>
<div class="tx R" style="left:98.0px;width:40.5px;">(28.1)</div>
<div class="tx R" style="left:142.0px;width:30.0px;"></div>
<div class="tx R" style="left:187.0px;width:39.0px;">-32.0</div>
<div class="tx R" style="left:242.0px;width:45.0px;">-122.9</div>
<div class="tx C" style="left:296.0px;width:40.6px;">Tropo</div>
<div class="tx R" style="left:347.0px;width:33.5px;">71.3</div>
<div class="tx R" style="left:389.0px;width:32.5px;color:#2a98a8">181°</div>
<div class="tx R" style="left:422.0px;width:45.9px;color:#2a98a8">(192°)</div>
</div>
<div class="fl fc" style="top:579.647px;height:11.176px;line-height:11.176px">C</div>
<div class="r x" style="top:590.824px"><div class="nm"></div>
<div class="tx " style="left:3.0px;width:80.0px;">WICU-DT</div>
<div class="tx R" style="left:67.0px;width:24.0px;">12</div>
<div class="tx R" style="left:98.0px;width:40.5px;">(12.1)</div>
<div class="tx R" style="left:142.0px;width:30.0px;">NBC</div>
<div class="tx R" style="left:187.0px;width:39.0px;">-32.1</div>
<div class="tx R" style="left:242.0px;width:45.0px;">-122.9</div>
<div class="tx C" style="left:296.0px;width:40.6px;">Tropo</div>
<div class="tx R" style="left:347.0px;width:33.5px;">140.5</div>
<div class="tx R" style="left:389.0px;width:32.5px;color:#2050b8">205°</div>
<div class="tx R" style="left:422.0px;width:45.9px;color:#2050b8">(216°)</div>
</div>
<div class="fl fa" style="top:590.824px;height:11.176px;line-height:11.176px">a</div>
<div class="fl fc" style="top:590.824px;height:11.176px;line-height:11.176px">C</div>
<svg class="a" style="left:0;top:0" width="303" height="380" viewBox="0 0 303 380">
<defs><radialGradient id="bands" gradientUnits="userSpaceOnUse" cx="151.5" cy="223.5" r="128">
<stop offset="0.0000" stop-color="#e4fce4"/>
<stop offset="0.5195" stop-color="#e4fce4"/>
<stop offset="0.5508" stop-color="#fdfde0"/>
<stop offset="0.6797" stop-color="#fdfde0"/>
<stop offset="0.7109" stop-color="#fde4e4"/>
<stop offset="0.8438" stop-color="#fde4e4"/>
<stop offset="0.8750" stop-color="#e2e2e2"/>
<stop offset="1.0000" stop-color="#e2e2e2"/>
</radialGradient></defs>
<path d="M142.49 80.28 A143.5 143.5 0 0 1 175.33 81.99 L172.67 97.77 A127.5 127.5 0 0 0 143.49 96.25 Z" fill="#fddfdd"/>
<path d="M174.58 81.87 A143.5 143.5 0 0 1 206.22 90.84 L200.12 105.63 A127.5 127.5 0 0 0 172.01 97.66 Z" fill="#fde5dd"/>
<path d="M205.52 90.56 A143.5 143.5 0 0 1 234.36 106.34 L225.12 119.41 A127.5 127.5 0 0 0 199.50 105.38 Z" fill="#fdecdd"/>
<path d="M233.75 105.91 A143.5 143.5 0 0 1 258.36 127.72 L246.44 138.40 A127.5 127.5 0 0 0 224.58 119.02 Z" fill="#fdf3dd"/>
<path d="M257.85 127.16 A143.5 143.5 0 0 1 276.99 153.90 L263.00 161.66 A127.5 127.5 0 0 0 246.00 137.90 Z" fill="#fdfadd"/>
<path d="M276.62 153.24 A143.5 143.5 0 0 1 289.33 183.57 L273.96 188.02 A127.5 127.5 0 0 0 262.67 161.08 Z" fill="#f9fddd"/>
<path d="M289.12 182.85 A143.5 143.5 0 0 1 294.76 215.24 L278.79 216.16 A127.5 127.5 0 0 0 273.78 187.38 Z" fill="#f3fddd"/>
<path d="M294.72 214.49 A143.5 143.5 0 0 1 293.01 247.33 L277.23 244.67 A127.5 127.5 0 0 0 278.75 215.49 Z" fill="#ecfddd"/>
<path d="M293.13 246.58 A143.5 143.5 0 0 1 284.16 278.22 L269.37 272.12 A127.5 127.5 0 0 0 277.34 244.01 Z" fill="#e5fddd"/>
<path d="M284.44 277.52 A143.5 143.5 0 0 1 268.66 306.36 L255.59 297.12 A127.5 127.5 0 0 0 269.62 271.50 Z" fill="#defddd"/>
<path d="M269.09 305.75 A143.5 143.5 0 0 1 247.28 330.36 L236.60 318.44 A127.5 127.5 0 0 0 255.98 296.58 Z" fill="#ddfde3"/>
<path d="M247.84 329.85 A143.5 143.5 0 0 1 221.10 348.99 L213.34 335.00 A127.5 127.5 0 0 0 237.10 318.00 Z" fill="#ddfdea"/>
<path d="M221.76 348.62 A143.5 143.5 0 0 1 191.43 361.33 L186.98 345.96 A127.5 127.5 0 0 0 213.92 334.67 Z" fill="#ddfdf1"/>
<path d="M192.15 361.12 A143.5 143.5 0 0 1 159.76 366.76 L158.84 350.79 A127.5 127.5 0 0 0 187.62 345.78 Z" fill="#ddfdf8"/>
<path d="M160.51 366.72 A143.5 143.5 0 0 1 127.67 365.01 L130.33 349.23 A127.5 127.5 0 0 0 159.51 350.75 Z" fill="#ddfcfd"/>
<path d="M128.42 365.13 A143.5 143.5 0 0 1 96.78 356.16 L102.88 341.37 A127.5 127.5 0 0 0 130.99 349.34 Z" fill="#ddf5fd"/>
<path d="M97.48 356.44 A143.5 143.5 0 0 1 68.64 340.66 L77.88 327.59 A127.5 127.5 0 0 0 103.50 341.62 Z" fill="#ddeefd"/>
<path d="M69.25 341.09 A143.5 143.5 0 0 1 44.64 319.28 L56.56 308.60 A127.5 127.5 0 0 0 78.42 327.98 Z" fill="#dde7fd"/>
<path d="M45.15 319.84 A143.5 143.5 0 0 1 26.01 293.10 L40.00 285.34 A127.5 127.5 0 0 0 57.00 309.10 Z" fill="#dde0fd"/>
<path d="M26.38 293.76 A143.5 143.5 0 0 1 13.67 263.43 L29.04 258.98 A127.5 127.5 0 0 0 40.33 285.92 Z" fill="#e1ddfd"/>
<path d="M13.88 264.15 A143.5 143.5 0 0 1 8.24 231.76 L24.21 230.84 A127.5 127.5 0 0 0 29.22 259.62 Z" fill="#e8ddfd"/>
<path d="M8.28 232.51 A143.5 143.5 0 0 1 9.99 199.67 L25.77 202.33 A127.5 127.5 0 0 0 24.25 231.51 Z" fill="#efddfd"/>
<path d="M9.87 200.42 A143.5 143.5 0 0 1 18.84 168.78 L33.63 174.88 A127.5 127.5 0 0 0 25.66 202.99 Z" fill="#f6ddfd"/>
<path d="M18.56 169.48 A143.5 143.5 0 0 1 34.34 140.64 L47.41 149.88 A127.5 127.5 0 0 0 33.38 175.50 Z" fill="#fcddfd"/>
<path d="M33.91 141.25 A143.5 143.5 0 0 1 55.72 116.64 L66.40 128.56 A127.5 127.5 0 0 0 47.02 150.42 Z" fill="#fdddf7"/>
<path d="M55.16 117.15 A143.5 143.5 0 0 1 81.90 98.01 L89.66 112.00 A127.5 127.5 0 0 0 65.90 129.00 Z" fill="#fdddf0"/>
<path d="M81.24 98.38 A143.5 143.5 0 0 1 111.57 85.67 L116.02 101.04 A127.5 127.5 0 0 0 89.08 112.33 Z" fill="#fddde9"/>
<path d="M110.85 85.88 A143.5 143.5 0 0 1 143.24 80.24 L144.16 96.21 A127.5 127.5 0 0 0 115.38 101.22 Z" fill="#fddde2"/>
<circle cx="151.5" cy="223.5" r="128" fill="url(#bands)"/>
<circle cx="151.5" cy="223.5" r="24" fill="#fff"/>
<circle cx="151.5" cy="223.5" r="24.0" fill="none" stroke="#3a3a3a" stroke-width="0.9"/>
<circle cx="151.5" cy="223.5" r="45.0" fill="none" stroke="#3a3a3a" stroke-width="0.9"/>
<circle cx="151.5" cy="223.5" r="66.0" fill="none" stroke="#3a3a3a" stroke-width="0.9"/>
<circle cx="151.5" cy="223.5" r="86.5" fill="none" stroke="#3a3a3a" stroke-width="0.9"/>
<circle cx="151.5" cy="223.5" r="107.5" fill="none" stroke="#3a3a3a" stroke-width="0.9"/>
<circle cx="151.5" cy="223.5" r="128.0" fill="none" stroke="#3a3a3a" stroke-width="0.9"/>
<line x1="8" y1="223.5" x2="295" y2="223.5" stroke="#111" stroke-width="1" stroke-dasharray="1 1"/>
<line x1="151.5" y1="79" x2="151.5" y2="368" stroke="#111" stroke-width="1" stroke-dasharray="1 1"/>
<line x1="64.94" y1="160.61" x2="47.62" y2="148.03" stroke="#fff200" stroke-width="7.5" stroke-linecap="round" opacity="1.00"/>
<line x1="94.30" y1="262.08" x2="42.90" y2="296.75" stroke="#fff200" stroke-width="8.0" stroke-linecap="round" opacity="1.00"/>
<line x1="82.03" y1="295.43" x2="61.89" y2="316.29" stroke="#fff200" stroke-width="7.5" stroke-linecap="round" opacity="1.00"/>
<line x1="159.70" y1="340.71" x2="160.46" y2="351.69" stroke="#fff200" stroke-width="9.5" stroke-linecap="round" opacity="1.00"/>
<line x1="246.11" y1="302.88" x2="249.17" y2="305.46" stroke="#fff200" stroke-width="6.0" stroke-linecap="round" opacity="1.00"/>
<line x1="64.94" y1="160.61" x2="47.62" y2="148.03" stroke="#0a50c8" stroke-width="4.5" stroke-linecap="round" opacity="1.00"/>
<line x1="246.56" y1="194.44" x2="275.15" y2="185.70" stroke="#0a50c8" stroke-width="3.2" stroke-linecap="butt" opacity="1.00"/>
<line x1="203.16" y1="309.47" x2="217.42" y2="333.22" stroke="#0a50c8" stroke-width="3.4" stroke-linecap="butt" opacity="1.00"/>
<line x1="103.42" y1="255.93" x2="45.38" y2="295.08" stroke="#0a3fa8" stroke-width="3.0" stroke-linecap="butt" opacity="1.00"/>
<line x1="81.34" y1="296.15" x2="62.58" y2="315.58" stroke="#0a3fa8" stroke-width="2.5" stroke-linecap="butt" opacity="1.00"/>
<line x1="146.09" y1="300.81" x2="142.56" y2="351.39" stroke="#0a50c8" stroke-width="3.2" stroke-linecap="butt" opacity="1.00"/>
<line x1="163.05" y1="311.24" x2="168.14" y2="349.91" stroke="#0a50c8" stroke-width="3.0" stroke-linecap="butt" opacity="1.00"/>
<line x1="167.41" y1="315.64" x2="173.29" y2="349.63" stroke="#0a50c8" stroke-width="3.0" stroke-linecap="butt" opacity="1.00"/>
<line x1="174.40" y1="313.33" x2="183.24" y2="348.02" stroke="#0a50c8" stroke-width="3.0" stroke-linecap="butt" opacity="1.00"/>
<line x1="127.74" y1="345.71" x2="127.17" y2="348.66" stroke="#0a50c8" stroke-width="2.6" stroke-linecap="butt" opacity="1.00"/>
<line x1="159.70" y1="340.71" x2="160.46" y2="351.69" stroke="#0a50c8" stroke-width="6.5" stroke-linecap="round" opacity="1.00"/>
<line x1="246.49" y1="303.21" x2="249.17" y2="305.46" stroke="#0a50c8" stroke-width="2.5" stroke-linecap="round" opacity="1.00"/>
<circle cx="39.4" cy="284.4" r="4.6" fill="#fff200"/><circle cx="39.4" cy="284.4" r="3" fill="#0a50c8"/>
</svg>
<div class="pl" style="left:64.4px;top:161.3px;width:13.7px">10</div>
<div class="pl" style="left:231.2px;top:191.9px;width:13.7px">27</div>
<div class="pl" style="left:192.6px;top:299.3px;width:13.7px">23</div>
<div class="pl" style="left:234.8px;top:294.3px;width:13.7px">10</div>
<div class="pl" style="left:245.7px;top:302.5px;width:13.7px">13</div>
<div class="pl" style="left:105.1px;top:247.3px;width:13.7px">25</div>
<div class="pl" style="left:93.2px;top:255.2px;width:13.7px">19</div>
<div class="pl" style="left:81.2px;top:263.3px;width:13.7px">41</div>
<div class="pl" style="left:69.4px;top:270.8px;width:13.7px">20</div>
<div class="pl" style="left:60.5px;top:279.3px;width:7.1px">9</div>
<div class="pl" style="left:45.6px;top:287.7px;width:13.7px">47</div>
<div class="pl" style="left:33.6px;top:296.1px;width:13.7px">40</div>
<div class="pl" style="left:44.0px;top:277.0px;width:7.1px">6</div>
<div class="pl" style="left:77.2px;top:288.6px;width:13.7px">11</div>
<div class="pl" style="left:66.9px;top:299.6px;width:13.7px">36</div>
<div class="pl" style="left:57.1px;top:309.8px;width:13.7px">35</div>
<div class="pl" style="left:140.5px;top:289.1px;width:13.7px">32</div>
<div class="pl" style="left:139.4px;top:304.4px;width:13.7px">43</div>
<div class="pl" style="left:138.3px;top:318.7px;width:13.7px">14</div>
<div class="pl" style="left:137.3px;top:335.4px;width:13.7px">15</div>
<div class="pl" style="left:123.2px;top:336.7px;width:13.7px">26</div>
<div class="pl" style="left:155.6px;top:300.3px;width:13.7px">39</div>
<div class="pl" style="left:161.2px;top:314.1px;width:13.7px">33</div>
<div class="pl" style="left:159.2px;top:328.4px;width:13.7px">38</div>
<div class="pl" style="left:172.2px;top:326.6px;width:13.7px">49</div>
<div class="pl" style="left:156.8px;top:343.3px;width:7.1px">7</div>
<div class="a s" style="left:127.5px;top:87px;font-size:10px;color:#cc0000;line-height:11px">N</div>
<div class="a" style="left:39.3px;top:637px;width:9.4px;height:123px;background:#e9e9e9"></div>
<div class="a" style="left:70.2px;top:637px;width:30.5px;height:123px;background:#e9e9e9"></div>
<svg class="a" style="left:0;top:600px" width="800" height="168" viewBox="0 600 800 168">
<line x1="8" y1="645.50" x2="173" y2="645.50" stroke="#666" stroke-width="1" stroke-dasharray="1 1"/>
<line x1="216" y1="645.50" x2="792" y2="645.50" stroke="#666" stroke-width="1" stroke-dasharray="1 1"/>
<line x1="8" y1="657.50" x2="173" y2="657.50" stroke="#666" stroke-width="1" stroke-dasharray="1 1"/>
<line x1="216" y1="657.50" x2="792" y2="657.50" stroke="#666" stroke-width="1" stroke-dasharray="1 1"/>
<line x1="8" y1="670.50" x2="173" y2="670.50" stroke="#666" stroke-width="1" stroke-dasharray="1 1"/>
<line x1="216" y1="670.50" x2="792" y2="670.50" stroke="#666" stroke-width="1" stroke-dasharray="1 1"/>
<line x1="8" y1="683.50" x2="173" y2="683.50" stroke="#666" stroke-width="1" stroke-dasharray="1 1"/>
<line x1="216" y1="683.50" x2="792" y2="683.50" stroke="#666" stroke-width="1" stroke-dasharray="1 1"/>
<line x1="8" y1="696.50" x2="173" y2="696.50" stroke="#666" stroke-width="1" stroke-dasharray="1 1"/>
<line x1="216" y1="696.50" x2="792" y2="696.50" stroke="#666" stroke-width="1" stroke-dasharray="1 1"/>
<line x1="8" y1="708.50" x2="173" y2="708.50" stroke="#666" stroke-width="1" stroke-dasharray="1 1"/>
<line x1="216" y1="708.50" x2="792" y2="708.50" stroke="#666" stroke-width="1" stroke-dasharray="1 1"/>
<line x1="8" y1="721.50" x2="173" y2="721.50" stroke="#666" stroke-width="1" stroke-dasharray="1 1"/>
<line x1="216" y1="721.50" x2="792" y2="721.50" stroke="#666" stroke-width="1" stroke-dasharray="1 1"/>
<line x1="8" y1="734.50" x2="173" y2="734.50" stroke="#666" stroke-width="1" stroke-dasharray="1 1"/>
<line x1="216" y1="734.50" x2="792" y2="734.50" stroke="#666" stroke-width="1" stroke-dasharray="1 1"/>
<line x1="8" y1="746.50" x2="173" y2="746.50" stroke="#666" stroke-width="1" stroke-dasharray="1 1"/>
<line x1="216" y1="746.50" x2="792" y2="746.50" stroke="#666" stroke-width="1" stroke-dasharray="1 1"/>
<path d="M7 760.5 V632.5 H12.7 M64.8 632.5 H110.8 M163 632.5 H173.4 V760.5" fill="none" stroke="#000" stroke-width="1.6"/>
<line x1="7" y1="760.5" x2="173.4" y2="760.5" stroke="#000" stroke-width="1.6"/>
<path d="M214.8 760.5 V632.3 H482.5 M523.8 632.3 H792.6 V760.5" fill="none" stroke="#000" stroke-width="1.6"/>
<line x1="214.8" y1="760.5" x2="792.6" y2="760.5" stroke="#000" stroke-width="1.6"/>
<rect x="119.54" y="692.73" width="14" height="7.6" rx="3.8" fill="#f2ee00" opacity="1.00"/>
<rect x="121.54" y="694.93" width="10" height="3.2" rx="1.2" fill="#0a56d4" stroke="#0a2a7a" stroke-width="0.7"/>
<rect x="129.96" y="744.91" width="14" height="7.6" rx="3.8" fill="#f2ee00" opacity="0.50"/>
<rect x="131.96" y="747.11" width="10" height="3.2" rx="1.2" fill="#7ea6e2" stroke="#9ab4dc" stroke-width="0.5"/>
<rect x="140.38" y="742.36" width="14" height="7.6" rx="3.8" fill="#f2ee00" opacity="0.50"/>
<rect x="142.38" y="744.56" width="10" height="3.2" rx="1.2" fill="#7ea6e2" stroke="#9ab4dc" stroke-width="0.5"/>
<rect x="214.30" y="729.29" width="10" height="3.2" rx="1.2" fill="#0a56d4" stroke="#0a2a7a" stroke-width="0.7"/>
<rect x="265.80" y="685.90" width="10" height="3.2" rx="1.2" fill="#0a56d4" stroke="#0a2a7a" stroke-width="0.7"/>
<rect x="276.10" y="690.10" width="10" height="3.2" rx="1.2" fill="#0a56d4" stroke="#0a2a7a" stroke-width="0.7"/>
<rect x="307.00" y="738.58" width="10" height="3.2" rx="1.2" fill="#0a56d4" stroke="#0a2a7a" stroke-width="0.7"/>
<rect x="317.30" y="705.62" width="10" height="3.2" rx="1.2" fill="#0a56d4" stroke="#0a2a7a" stroke-width="0.7"/>
<rect x="327.60" y="685.01" width="10" height="3.2" rx="1.2" fill="#0a56d4" stroke="#0a2a7a" stroke-width="0.7"/>
<rect x="348.20" y="736.42" width="10" height="3.2" rx="1.2" fill="#0a56d4" stroke="#0a2a7a" stroke-width="0.7"/>
<rect x="399.70" y="711.09" width="10" height="3.2" rx="1.2" fill="#0a56d4" stroke="#0a2a7a" stroke-width="0.7"/>
<rect x="410.00" y="729.42" width="10" height="3.2" rx="1.2" fill="#0a56d4" stroke="#0a2a7a" stroke-width="0.7"/>
<rect x="440.90" y="755.63" width="10" height="3.2" rx="1.2" fill="#7ea6e2" stroke="#9ab4dc" stroke-width="0.5"/>
<rect x="461.50" y="729.67" width="10" height="3.2" rx="1.2" fill="#0a56d4" stroke="#0a2a7a" stroke-width="0.7"/>
<rect x="471.80" y="724.96" width="10" height="3.2" rx="1.2" fill="#0a56d4" stroke="#0a2a7a" stroke-width="0.7"/>
<rect x="482.10" y="723.31" width="10" height="3.2" rx="1.2" fill="#7ea6e2" stroke="#9ab4dc" stroke-width="0.5"/>
<rect x="482.10" y="696.08" width="10" height="3.2" rx="1.2" fill="#7ea6e2" stroke="#9ab4dc" stroke-width="0.5"/>
<rect x="492.40" y="687.17" width="10" height="3.2" rx="1.2" fill="#0a56d4" stroke="#0a2a7a" stroke-width="0.7"/>
<rect x="513.00" y="721.02" width="10" height="3.2" rx="1.2" fill="#0a56d4" stroke="#0a2a7a" stroke-width="0.7"/>
<rect x="523.30" y="731.07" width="10" height="3.2" rx="1.2" fill="#7ea6e2" stroke="#9ab4dc" stroke-width="0.5"/>
<rect x="523.30" y="696.08" width="10" height="3.2" rx="1.2" fill="#7ea6e2" stroke="#9ab4dc" stroke-width="0.5"/>
<rect x="554.20" y="696.08" width="10" height="3.2" rx="1.2" fill="#0a56d4" stroke="#0a2a7a" stroke-width="0.7"/>
<rect x="574.80" y="730.82" width="10" height="3.2" rx="1.2" fill="#0a56d4" stroke="#0a2a7a" stroke-width="0.7"/>
<rect x="595.40" y="697.61" width="10" height="3.2" rx="1.2" fill="#0a56d4" stroke="#0a2a7a" stroke-width="0.7"/>
<rect x="595.40" y="732.35" width="10" height="3.2" rx="1.2" fill="#0a56d4" stroke="#0a2a7a" stroke-width="0.7"/>
<rect x="739.60" y="736.42" width="10" height="3.2" rx="1.2" fill="#0a56d4" stroke="#0a2a7a" stroke-width="0.7"/>
<rect x="749.90" y="736.67" width="10" height="3.2" rx="1.2" fill="#0a56d4" stroke="#0a2a7a" stroke-width="0.7"/>
</svg>
<div class="axl" style="left:13.5px;">2</div>
<div class="axl" style="left:34.2px;">4</div>
<div class="axl" style="left:55.2px;">5</div>
<div class="axl" style="left:64.9px;">6</div>
<div class="axl" style="left:105.7px;">7</div>
<div class="axl" style="left:127.0px;">9</div>
<div class="axl" style="left:147.7px;">11</div>
<div class="axl" style="left:168.2px;">13</div>
<div class="axl" style="left:219.3px;">14</div>
<div class="axl" style="left:239.9px;">16</div>
<div class="axl" style="left:270.8px;">19</div>
<div class="axl" style="left:301.7px;">22</div>
<div class="axl" style="left:332.6px;">25</div>
<div class="axl" style="left:363.5px;">28</div>
<div class="axl" style="left:394.4px;">31</div>
<div class="axl" style="left:425.3px;">34</div>
<div class="axl" style="left:456.2px;">37</div>
<div class="axl" style="left:487.1px;">40</div>
<div class="axl" style="left:518.0px;">43</div>
<div class="axl" style="left:548.9px;">46</div>
<div class="axl" style="left:579.8px;">49</div>
<div class="axl" style="left:610.7px;">52</div>
<div class="axl" style="left:641.6px;">55</div>
<div class="axl" style="left:672.5px;">58</div>
<div class="axl" style="left:703.4px;">61</div>
<div class="axl" style="left:734.3px;">64</div>
<div class="axl" style="left:765.2px;">67</div>
<div class="axl" style="left:786.8px;">69</div>
<div class="a s" style="left:16px;top:626px;padding:0 4px;background:#fff;font-weight:bold;font-size:11px;line-height:13px;color:#111">VHF Lo</div>
<div class="a s" style="left:115px;top:626px;padding:0 4px;background:#fff;font-weight:bold;font-size:11px;line-height:13px;color:#111;letter-spacing:0.3px">VHF Hi</div>
<div class="a s" style="left:489px;top:626px;padding:0 3px;font-weight:bold;font-size:11px;line-height:13px;color:#111">UHF</div>
<div class="a s" style="left:182.5px;top:626.5px;font-size:10.5px;line-height:12px;color:#111">dBm</div>
<div class="a s" style="left:170px;width:32px;text-align:right;top:638.1px;font-size:10.5px;line-height:12px;color:#111">-10</div>
<div class="a s" style="left:170px;width:32px;text-align:right;top:650.9px;font-size:10.5px;line-height:12px;color:#111">-20</div>
<div class="a s" style="left:170px;width:32px;text-align:right;top:663.6px;font-size:10.5px;line-height:12px;color:#111">-30</div>
<div class="a s" style="left:170px;width:32px;text-align:right;top:676.3px;font-size:10.5px;line-height:12px;color:#111">-40</div>
<div class="a s" style="left:170px;width:32px;text-align:right;top:689.0px;font-size:10.5px;line-height:12px;color:#111">-50</div>
<div class="a s" style="left:170px;width:32px;text-align:right;top:701.8px;font-size:10.5px;line-height:12px;color:#111">-60</div>
<div class="a s" style="left:170px;width:32px;text-align:right;top:714.5px;font-size:10.5px;line-height:12px;color:#111">-70</div>
<div class="a s" style="left:170px;width:32px;text-align:right;top:727.2px;font-size:10.5px;line-height:12px;color:#111">-80</div>
<div class="a s" style="left:170px;width:32px;text-align:right;top:739.9px;font-size:10.5px;line-height:12px;color:#111">-90</div>
<div class="a s" style="left:177px;top:753px;font-size:9px;line-height:10px;color:#111;transform:scaleX(1.09);transform-origin:0 0">Channel</div>
<div class="a" style="left:347px;top:617.6px;width:7px;height:10.8px;background:#c80000;color:#fff;font-family:'Liberation Mono',monospace;font-size:10px;line-height:11px;text-align:center">C</div>
<div class="a s" style="left:361px;top:618px;font-size:11.3px;line-height:13px;color:#111;transform:scaleX(1.14);transform-origin:0 0">= Co-channel warning</div>
<div class="a" style="left:557.3px;top:617.6px;width:7.5px;height:10.8px;background:#ff7f7f;color:#fff;font-family:'Liberation Mono',monospace;font-size:10px;line-height:11px;text-align:center">a</div>
<div class="a s" style="left:572px;top:618px;font-size:11.3px;line-height:13px;color:#111;transform:scaleX(1.147);transform-origin:0 0">= Adjacent channel warning</div>
<div class="sl" style="left:122.34px;top:692.33px;color:#1a62d8">CFTO-DT(1)</div>
<div class="sl" style="left:132.76px;top:744.51px;color:#7ea6e2">CKVR-DT</div>
<div class="sl" style="left:143.18px;top:741.96px;color:#7ea6e2">CHCH-DT</div>
<div class="sl" style="left:215.10px;top:726.69px;color:#1a62d8">WUTV-DT</div>
<div class="sl" style="left:266.60px;top:683.30px;color:#1a62d8">CICA-DT</div>
<div class="sl" style="left:276.90px;top:687.50px;color:#1a62d8">CBLT-DT</div>
<div class="sl" style="left:307.80px;top:735.98px;color:#1a62d8">WPXJ-DT</div>
<div class="sl" style="left:318.10px;top:703.02px;color:#1a62d8">CBLFT-DT</div>
<div class="sl" style="left:328.40px;top:682.41px;color:#1a62d8">CBLFT-DT(1)</div>
<div class="sl" style="left:349.00px;top:733.82px;color:#1a62d8">CIII-DT-27</div>
<div class="sl" style="left:400.50px;top:708.49px;color:#1a62d8">WNLO-DT</div>
<div class="sl" style="left:410.80px;top:726.82px;color:#1a62d8">WGRZ-DT</div>
<div class="sl" style="left:441.70px;top:753.03px;color:#7ea6e2">CITS-DT(1)</div>
<div class="sl" style="left:462.30px;top:727.07px;color:#1a62d8">WKBW-DT</div>
<div class="sl" style="left:472.60px;top:722.36px;color:#1a62d8">WIVB-DT</div>
<div class="sl" style="left:482.90px;top:720.71px;color:#7ea6e2">CKXT-DT(1)</div>
<div class="sl" style="left:482.90px;top:693.48px;color:#7ea6e2">CJMT-DT(2)</div>
<div class="sl" style="left:493.20px;top:684.57px;color:#1a62d8">CIII-DT-41(1)</div>
<div class="sl" style="left:513.80px;top:718.42px;color:#1a62d8">WNED-DT</div>
<div class="sl" style="left:524.10px;top:728.47px;color:#7ea6e2">CJMT-DT</div>
<div class="sl" style="left:524.10px;top:693.48px;color:#7ea6e2">CITY-DT</div>
<div class="sl" style="left:555.00px;top:693.48px;color:#1a62d8">CFMT-DT</div>
<div class="sl" style="left:575.60px;top:728.22px;color:#1a62d8">WNYO-DT</div>
<div class="sl" style="left:596.20px;top:695.01px;color:#1a62d8">CJMT-DT(1)</div>
<div class="sl" style="left:596.20px;top:729.75px;color:#1a62d8">CJMT-DT</div>
<div class="sl" style="left:740.40px;top:733.82px;color:#1a62d8">CIII-DT-41</div>
<div class="sl" style="left:750.70px;top:734.07px;color:#1a62d8">CKXT-DT</div>
<div style="position:absolute;left:0;width:303px;text-align:center;white-space:pre;font-family:'Liberation Sans',sans-serif;top:19.8px;font-weight:bold;font-size:15.5px;color:#111;">me</div>
<div style="position:absolute;left:0;width:303px;text-align:center;white-space:pre;font-family:'Liberation Sans',sans-serif;top:43.0px;font-weight:bold;font-size:14.8px;color:#111;">Digital Only</div>
<div style="position:absolute;left:0;width:303px;text-align:center;white-space:pre;font-family:'Liberation Sans',sans-serif;top:67.5px;font-size:11px;color:#222;">TrueNorth</div>
<div style="position:absolute;left:0;width:303px;text-align:center;white-space:pre;font-family:'Liberation Sans',sans-serif;top:391.5px;font-weight:bold;font-size:11px;color:#111;transform:scaleX(1.105);"><span style="border-bottom:1px solid #222;">Search Criteria</span></div>
<div style="position:absolute;left:0;width:303px;text-align:center;white-space:pre;font-family:'Liberation Sans',sans-serif;top:413.8px;font-size:11px;color:#111;transform:scaleX(1.14);">CURRENT+PENDING</div>
<div style="position:absolute;left:0;width:303px;text-align:center;white-space:pre;font-family:'Liberation Sans',sans-serif;top:426.2px;font-size:11px;color:#111;transform:scaleX(1.14);">Address: zipcode level</div>
<div style="position:absolute;left:0;width:303px;text-align:center;white-space:pre;font-family:'Liberation Sans',sans-serif;top:438.5px;font-size:11px;color:#111;transform:scaleX(1.14);">oshawa, ON</div>
<div style="position:absolute;left:0;width:303px;text-align:center;white-space:pre;font-family:'Liberation Sans',sans-serif;top:450.9px;font-size:11px;color:#111;transform:scaleX(1.14);">Zipcode 00000</div>
<div style="position:absolute;left:0;width:303px;text-align:center;white-space:pre;font-family:'Liberation Sans',sans-serif;top:463.2px;font-size:11px;color:#111;transform:scaleX(1.14);">Height: 40.0 ft.</div>
<div style="position:absolute;left:0;width:303px;text-align:center;white-space:pre;font-family:'Liberation Sans',sans-serif;top:500.5px;font-size:11px;color:#111;transform:scaleX(1.14);">db datecode</div>
<div style="position:absolute;left:0;width:303px;text-align:center;white-space:pre;font-family:'Liberation Sans',sans-serif;top:513.5px;font-size:11px;color:#111;transform:scaleX(1.14);">201201251232</div>
<div style="position:absolute;left:0;width:303px;text-align:center;white-space:pre;font-family:'Liberation Sans',sans-serif;top:589.5px;font-size:13px;color:#2222c8;transform:scaleX(1.1);"><span style="text-decoration:underline">www.tvfool.com</span></div>
</body></html>
